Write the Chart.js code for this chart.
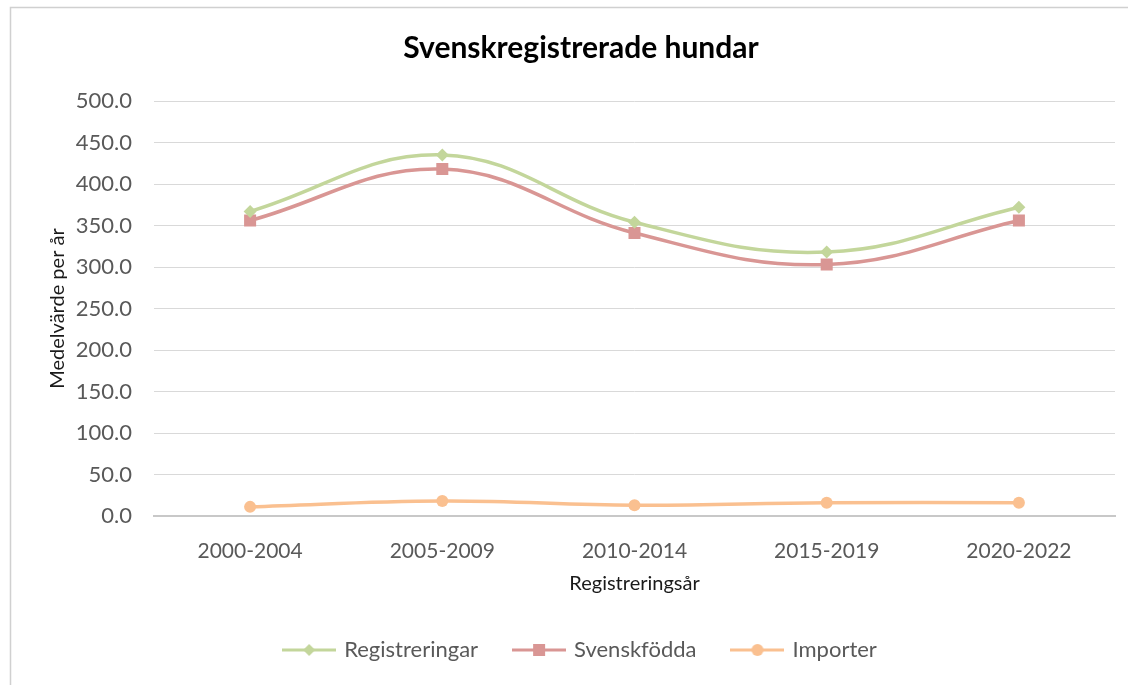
<!DOCTYPE html>
<html>
<head>
<meta charset="utf-8">
<script src="https://cdn.jsdelivr.net/npm/chart.js@4/dist/chart.umd.min.js"></script>
<style>
  html, body { margin: 0; padding: 0; background: #fff; }
  #wrap { width: 1128px; height: 685px; position: relative; }
</style>
</head>
<body>
<div id="wrap"><canvas id="c" width="1128" height="685"></canvas></div>
<script>
const chartTitle = 'Svenskregistrerade hundar';
const xAxisTitle = 'Registreringsår';
const yAxisTitle = 'Medelvärde per år';
const categories = ['2000-2004', '2005-2009', '2010-2014', '2015-2019', '2020-2022'];
const seriesNames = ['Registreringar', 'Svenskfödda', 'Importer'];
const registreringar = [367, 435, 354, 318, 372];
const svenskfodda = [356, 418, 341, 303, 356];
const importer = [11, 18, 13, 16, 16];
const yTicks = { min: 0, max: 500, step: 50 };

const colors = ['#C3D69B', '#D99694', '#FAC090'];
const markerStyles = ['rectRot', 'rect', 'circle'];
const markerRadius = [6.5, 8.5, 6];

function legendImage(color, style) {
  const cv = document.createElement('canvas');
  cv.width = 54; cv.height = 16;
  const ctx = cv.getContext('2d');
  ctx.strokeStyle = color;
  ctx.lineWidth = 3;
  ctx.beginPath(); ctx.moveTo(0, 8); ctx.lineTo(54, 8); ctx.stroke();
  ctx.fillStyle = color;
  ctx.beginPath();
  const c = 27;
  if (style === 'rectRot') {
    const r = 6;
    ctx.moveTo(c, 8 - r); ctx.lineTo(c + r, 8); ctx.lineTo(c, 8 + r); ctx.lineTo(c - r, 8);
  } else if (style === 'rect') {
    ctx.rect(c - 6, 8 - 6, 12, 12);
  } else {
    ctx.arc(c, 8, 6, 0, Math.PI * 2);
  }
  ctx.closePath(); ctx.fill();
  return cv;
}

const allValues = [registreringar, svenskfodda, importer];
const datasets = allValues.map((vals, i) => ({
  label: seriesNames[i],
  data: vals,
  borderColor: colors[i],
  backgroundColor: colors[i],
  borderWidth: 3.5,
  pointStyle: markerStyles[i],
  pointRadius: markerRadius[i],
  pointBorderWidth: 0,
  pointBackgroundColor: colors[i],
  tension: 0.4,
  fill: false
}));

const frame = {
  id: 'frame',
  beforeDraw(chart) {
    const ctx = chart.ctx;
    ctx.save();
    ctx.fillStyle = '#fff';
    ctx.fillRect(0, 0, chart.width, chart.height);
    ctx.strokeStyle = '#d0d0d0';
    ctx.lineWidth = 1.5;
    ctx.beginPath();
    ctx.moveTo(10.5, chart.height);
    ctx.lineTo(10.5, 7.5);
    ctx.lineTo(chart.width, 7.5);
    ctx.stroke();
    ctx.restore();
  }
};

new Chart(document.getElementById('c'), {
  type: 'line',
  data: { labels: categories, datasets },
  plugins: [frame],
  options: {
    responsive: false,
    animation: false,
    layout: { padding: { left: 34, right: 0, top: 0, bottom: 14 } },
    plugins: {
      tooltip: { enabled: false },
      title: {
        display: true,
        text: chartTitle,
        color: '#000',
        font: { family: 'Lato', size: 30, weight: 'bold' },
        padding: { top: 30, bottom: 35 }
      },
      legend: {
        position: 'bottom',
        labels: {
          usePointStyle: true,
          pointStyleWidth: 48,
          padding: 37,
          color: '#595959',
          font: { family: 'Lato', size: 22 },
          generateLabels(chart) {
            return chart.data.datasets.map((ds, i) => ({
              text: ds.label,
              fillStyle: colors[i],
              strokeStyle: colors[i],
              lineWidth: 0,
              pointStyle: legendImage(colors[i], markerStyles[i]),
              hidden: false,
              datasetIndex: i,
              fontColor: '#595959'
            }));
          }
        }
      }
    },
    scales: {
      x: {
        grid: { display: false },
        border: { display: true, color: '#c8c8c8', width: 2 },
        offset: true,
        ticks: { color: '#595959', font: { family: 'Lato', size: 21 }, padding: 15, maxRotation: 0 },
        title: {
          display: true, text: xAxisTitle, color: '#1a1a1a',
          font: { family: 'Lato', size: 20 }, padding: { top: 0, bottom: 6 }
        },
        afterFit(scale) { scale.height = 86; }
      },
      y: {
        min: yTicks.min, max: yTicks.max,
        grid: { color: '#d9d9d9', lineWidth: 1, drawTicks: false },
        border: { display: false },
        ticks: {
          stepSize: yTicks.step,
          color: '#595959',
          font: { family: 'Lato', size: 22 },
          padding: 22,
          callback: v => Number(v).toFixed(1)
        },
        title: {
          display: true, text: yAxisTitle, color: '#1a1a1a',
          font: { family: 'Lato', size: 20 }, padding: { top: 12, bottom: 0 }
        },
        afterFit(scale) { scale.width = 120; }
      },
      yRight: {
        position: 'right',
        display: true,
        grid: { display: false, drawTicks: false },
        border: { display: false },
        ticks: { display: false },
        afterFit(scale) { scale.width = 13; }
      }
    }
  }
});
</script>
</body>
</html>
